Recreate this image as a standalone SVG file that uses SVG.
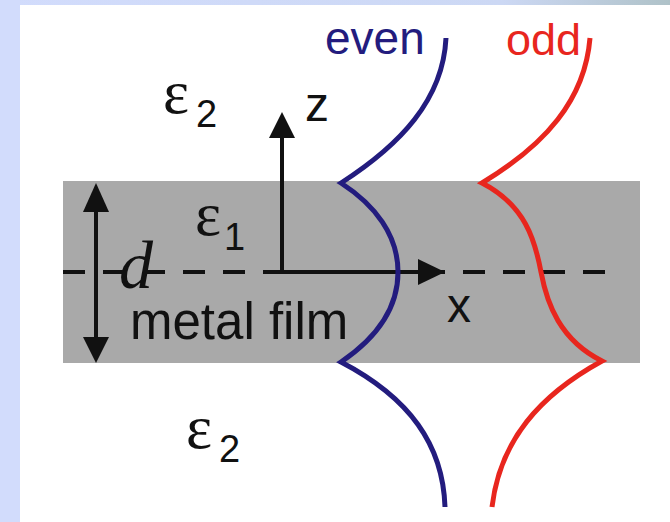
<svg xmlns="http://www.w3.org/2000/svg" width="670" height="522" viewBox="0 0 670 522">
<defs>
<linearGradient id="topg" x1="0" y1="0" x2="1" y2="0">
<stop offset="0" stop-color="#D2DCFC"/>
<stop offset="0.75" stop-color="#CCD8F4"/>
<stop offset="1" stop-color="#AFC2C8"/>
</linearGradient>
<style>
.t{font-family:"Liberation Sans",Arial,sans-serif;fill:#111}
.eps{font-family:"Liberation Serif","Times New Roman",serif;fill:#111}
.ax{stroke:#111;stroke-width:4;fill:none}
.hd{fill:#111}
.even{stroke:#231C7E;stroke-width:5;fill:none;stroke-linejoin:miter;stroke-miterlimit:10}
.odd{stroke:#E8261E;stroke-width:5;fill:none;stroke-linejoin:miter;stroke-miterlimit:10}
</style>
</defs>
<rect width="670" height="522" fill="#FFFFFF"/>
<rect x="0" y="0" width="670" height="5" fill="url(#topg)"/>
<rect x="0" y="0" width="20" height="522" fill="#D2DCFC"/>
<g id="film">
<rect x="63" y="181" width="577" height="182" fill="#A9A9A9"/>
</g>
<g id="labels">
<text class="eps" x="163" y="113" font-size="62">ε</text><text class="t" x="196" y="127" font-size="38">2</text>
<text class="eps" x="195" y="235" font-size="62">ε</text><text class="t" x="224" y="250" font-size="38">1</text>
<text class="eps" x="186" y="448" font-size="62">ε</text><text class="t" x="219" y="462" font-size="38">2</text>
<text class="t" x="130" y="339" font-size="51">metal film</text>
<text class="t" x="305" y="121" font-size="48">z</text>
<text class="t" x="447" y="322" font-size="48">x</text>
<text class="eps" x="119" y="288" font-size="68" font-style="italic">d</text>
<text x="325" y="54" font-size="46" font-family="Liberation Sans, Arial, sans-serif" fill="#231C7E">even</text>
<text x="506" y="55" font-size="45" font-family="Liberation Sans, Arial, sans-serif" fill="#E8261E">odd</text>
</g>
<g id="connectors">
<line class="ax" x1="63" y1="272" x2="605" y2="272" stroke-dasharray="22 18" stroke-width="5"/>
<line class="ax" x1="263" y1="272" x2="422" y2="272" stroke-width="5"/>
<polygon class="hd" points="445,272 418,259 418,285"/>
<line class="ax" x1="282" y1="272" x2="282" y2="135"/>
<polygon class="hd" points="282,112 269,138 295,138"/>
<line class="ax" x1="96" y1="205" x2="96" y2="340"/>
<polygon class="hd" points="96,183 83,212 109,212"/>
<polygon class="hd" points="96,363 83,337 109,337"/>
</g>
<g id="even-mode">
<path class="even" d="M 446,38 C 443,100 400,145 341,183 C 375,205 398,235 398,272 C 398,309 375,339 341,362 C 410,398 443,445 445,507"/>
</g>
<g id="odd-mode">
<path class="odd" d="M 590,38 C 585,100 545,145 482,183 C 525,205 535,240 541,272 C 547,304 560,340 602,361 C 540,395 500,440 492,507"/>
</g>
</svg>
